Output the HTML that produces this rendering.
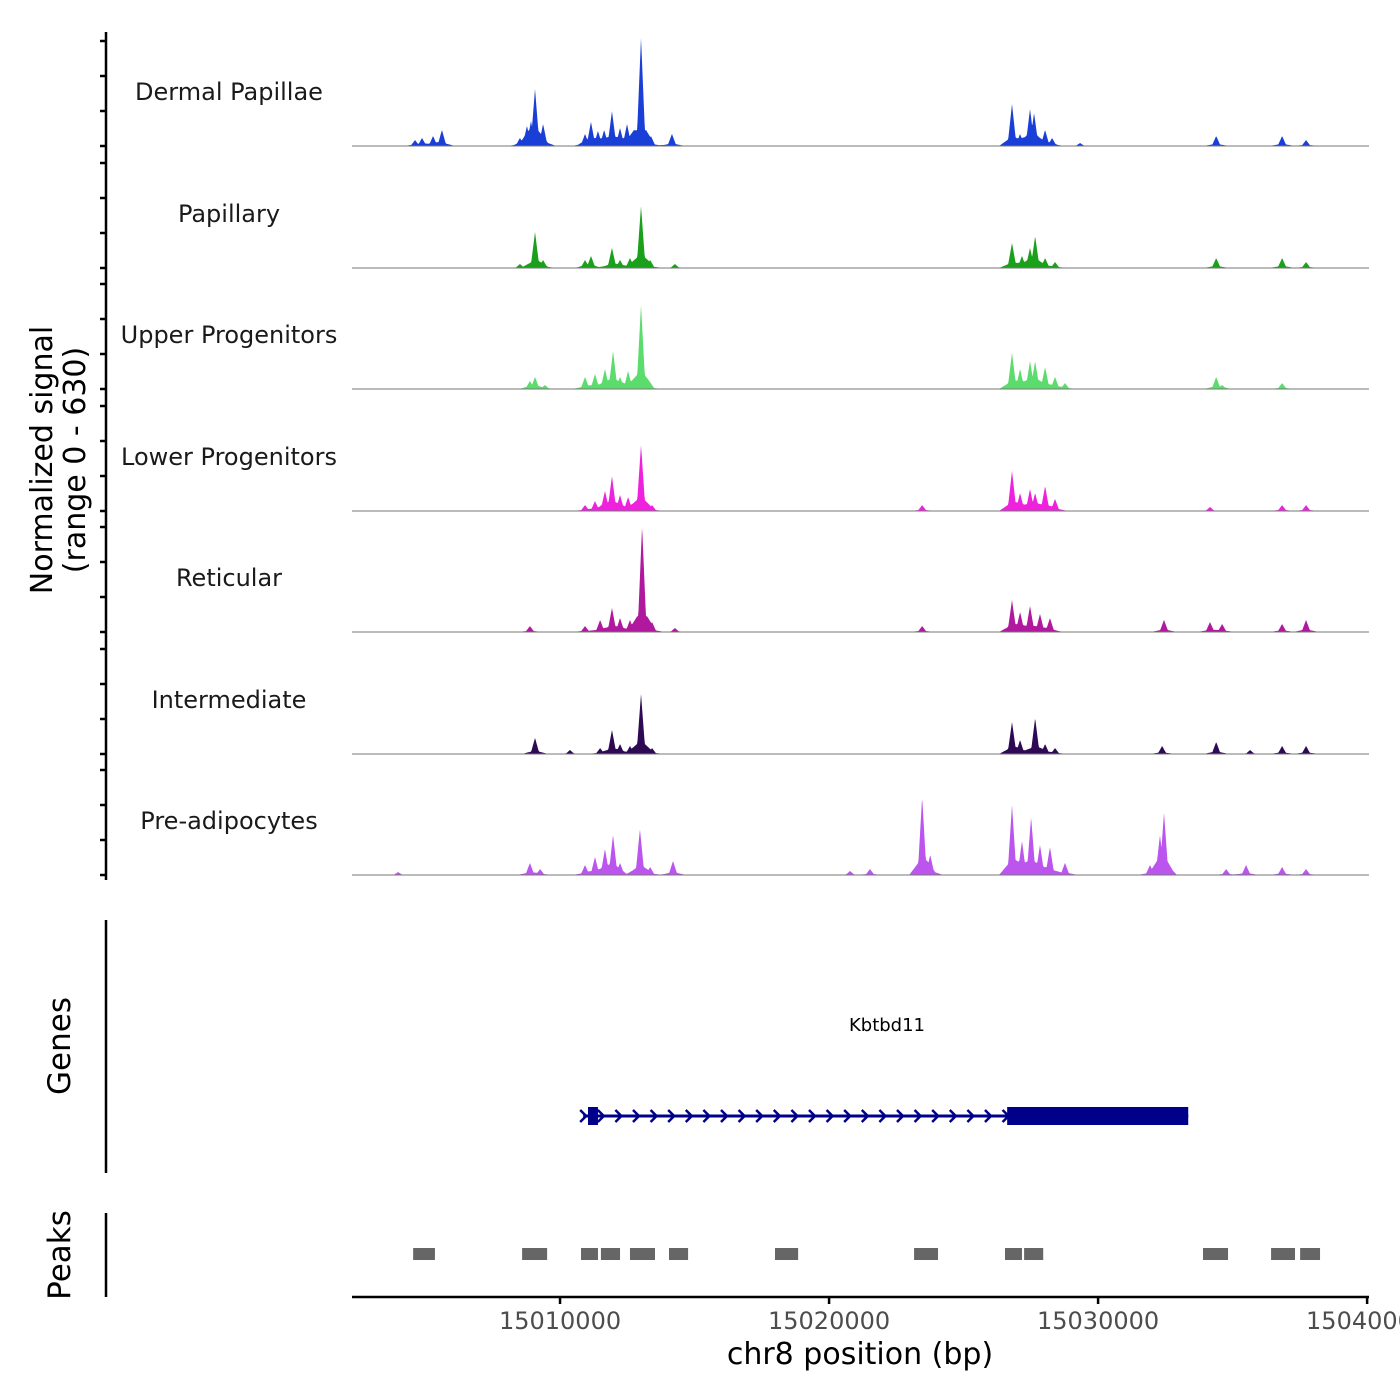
<!DOCTYPE html>
<html><head><meta charset="utf-8">
<style>
html,body{margin:0;padding:0;background:#fff;width:1400px;height:1400px;overflow:hidden}
svg{display:block;font-family:"DejaVu Sans","Liberation Sans",sans-serif}
</style></head>
<body>
<svg id="chart" width="1400" height="1400" viewBox="0 0 1400 1400">
  <g id="tracks"></g>
  <line x1="106" y1="32" x2="106" y2="880" stroke="#000" stroke-width="2.5"/>
  <g id="yticks"></g>
  <text transform="translate(52,460) rotate(-90)" text-anchor="middle" font-size="30" fill="#000">Normalized signal</text>
  <text transform="translate(85,460) rotate(-90)" text-anchor="middle" font-size="30" fill="#000">(range 0 - 630)</text>

  <line x1="106" y1="920" x2="106" y2="1173" stroke="#000" stroke-width="2.5"/>
  <text transform="translate(70,1046) rotate(-90)" text-anchor="middle" font-size="31" fill="#000">Genes</text>
  <g id="genes"></g>

  <line x1="106" y1="1213" x2="106" y2="1297" stroke="#000" stroke-width="2.5"/>
  <text transform="translate(70,1255) rotate(-90)" text-anchor="middle" font-size="31" fill="#000">Peaks</text>
  <g id="peaks"></g>

  <line x1="352" y1="1297" x2="1369" y2="1297" stroke="#000" stroke-width="2.5"/>
  <g id="xticks"></g>
  <text x="860" y="1364" text-anchor="middle" font-size="30" fill="#000">chr8 position (bp)</text>
</svg>
<script>
// positions in kb relative to chr8:15,000,000; signal in normalized units (0-630)
const trackNames = ["Dermal Papillae","Papillary","Upper Progenitors","Lower Progenitors","Reticular","Intermediate","Pre-adipocytes"];
const trackColors = ["#1a3fd6","#1aa01a","#5cdc6c","#ee22dd","#b0189e","#2e0a55","#bb55ee"];
const dpPos = [4.61,4.87,5.28,5.61,8.51,8.77,8.92,9.07,9.37,10.93,11.15,11.41,11.64,11.93,12.23,12.49,12.75,13.01,13.38,14.16,26.80,27.10,27.47,27.62,28.03,28.29,29.33,34.39,36.84,37.73];
const dpVal = [34,46,57,92,46,115,143,327,126,69,138,86,92,200,103,126,80,619,57,69,240,69,212,189,92,46,17,57,57,34];
const papPos = [8.51,9.07,9.37,10.93,11.15,11.93,12.23,12.60,13.01,13.35,14.27,26.80,27.17,27.47,27.66,28.03,28.40,34.39,36.84,37.73];
const papVal = [23,206,46,46,69,115,46,57,355,46,23,143,69,115,183,57,34,57,57,34];
const upPos = [8.88,9.07,9.44,10.93,11.30,11.67,11.97,12.23,12.53,13.01,13.35,26.80,27.10,27.47,27.66,28.03,28.40,28.77,34.39,34.61,36.84];
const upVal = [46,69,23,69,86,115,218,69,103,481,34,206,115,160,160,126,69,34,69,23,34];
const lowPos = [10.93,11.30,11.67,11.93,12.23,12.53,13.01,13.42,23.46,26.80,27.10,27.47,27.66,28.03,28.40,34.16,36.84,37.73];
const lowVal = [34,57,115,200,92,80,378,34,34,229,103,126,103,143,69,23,34,34];
const retPos = [8.88,10.93,11.49,11.93,12.23,12.60,13.05,13.42,14.27,23.46,26.80,27.10,27.47,27.84,28.21,32.45,34.16,34.61,36.84,37.73];
const retVal = [34,34,69,138,80,69,607,57,23,34,183,115,149,103,80,69,57,46,46,69];
const intPos = [9.07,10.37,11.49,11.93,12.23,12.60,13.01,13.42,26.80,27.10,27.66,28.03,28.40,32.38,34.39,35.65,36.84,37.73];
const intVal = [92,23,34,138,57,46,344,34,183,80,206,57,34,46,69,23,46,46];
const prePos = [3.98,8.88,9.26,10.93,11.30,11.67,11.97,12.23,12.97,13.35,14.20,20.78,21.52,23.46,23.76,26.80,27.17,27.51,27.84,28.21,28.77,31.93,32.30,32.45,34.76,35.50,36.84,37.73];
const preVal = [17,69,34,57,103,149,229,69,263,46,80,23,34,447,115,401,195,332,172,160,69,57,229,355,34,57,46,34];
const trackPos = [dpPos,papPos,upPos,lowPos,retPos,intPos,prePos];
const trackVal = [dpVal,papVal,upVal,lowVal,retVal,intVal,preVal];
const yTickVals = [0,200,400,600];
const xTickVals = [15010000,15020000,15030000,15040000];
const peakStarts = [4.54,8.59,10.78,11.52,12.60,14.05,17.99,23.16,26.54,27.25,33.90,36.43,37.51];
const peakEnds = [5.35,9.52,11.41,12.23,13.53,14.76,18.85,24.05,27.17,27.96,34.83,37.32,38.25];
const geneName = "Kbtbd11";
const geneStart = 10.86, geneEnd = 33.35;
const exonStarts = [11.04,26.62];
const exonEnds = [11.41,33.35];

const NS="http://www.w3.org/2000/svg";
const X0=352, X1=1369, KB0=2.267, KB1=40.07;
function xs(kb){return X0+(kb-KB0)/(KB1-KB0)*(X1-X0);}
function xbp(bp){return xs((bp-15000000)/1000);}
const baselines=[146,268,389,511,632,754,875];
const PH=110.25, YMAX=630;
function ys(v,b){return b - v/YMAX*PH;}
function mk(tag,attrs,parent){const e=document.createElementNS(NS,tag);for(const k in attrs)e.setAttribute(k,attrs[k]);parent.appendChild(e);return e;}

const tracks=document.getElementById('tracks');
trackNames.forEach((nm,i)=>{
  const b=baselines[i];
  const g=mk('g',{},tracks);
  
  
  const pos=trackPos[i], val=trackVal[i];
  let d='M'+X0+' '+b;
  for(let x=X0;x<=X1;x+=0.5){
    let v=0, sh=0;
    for(let k=0;k<pos.length;k++){
      const px=xs(pos[k]);
      const t=1-Math.abs(x-px)/4.5;
      if(t>0) v=Math.max(v,val[k]*t);
      const s=1-Math.abs(x-px)/13;
      if(s>0) sh+=val[k]*0.22*s;
    }
    v=Math.max(v,Math.min(sh,90));
    d+=' L'+x+' '+ys(v,b).toFixed(2);
  }
  d+=' L'+X1+' '+b+' Z';
  const p=mk('path',{d:d,fill:trackColors[i]},g);
  
  
  const l=mk('line',{x1:X0,x2:X1,y1:b,y2:b,stroke:'#777','stroke-width':1},g);
  
  
  const t=mk('text',{x:229,y:b-46,'text-anchor':'middle','font-size':24,fill:'#1a1a1a'},g);
  t.textContent=nm;
  
  
});

const yt=document.getElementById('yticks');
baselines.forEach(b=>{yTickVals.forEach(v=>{
  const y=ys(v,b);
  const l=mk('line',{x1:100,x2:106,y1:y,y2:y,stroke:'#000','stroke-width':2.5},yt);
  
  
});});

const xt=document.getElementById('xticks');
xTickVals.forEach(v=>{
  const x=xbp(v);
  const l=mk('line',{x1:x,x2:x,y1:1297,y2:1304,stroke:'#000','stroke-width':2.5},xt);
  
  
  const t=mk('text',{x:x,y:1329,'text-anchor':'middle','font-size':24,fill:'#4d4d4d'},xt);
  t.textContent=String(v);
  
  
});

const pk=document.getElementById('peaks');
peakStarts.forEach((s,i)=>{
  const r=mk('rect',{x:xs(s),y:1248,width:xs(peakEnds[i])-xs(s),height:12,fill:'#666'},pk);
  
  
});

const gn=document.getElementById('genes');
const gy=1116;
const gl=mk('line',{x1:xs(geneStart),x2:xs(geneEnd),y1:gy,y2:gy,stroke:'#00008b','stroke-width':3},gn);


for(let x=xs(geneStart);x<xs(exonStarts[1]);x+=17.6){
  const a=mk('path',{d:`M${x-3} ${gy-6} L${x+3} ${gy} L${x-3} ${gy+6}`,fill:'none',stroke:'#00008b','stroke-width':2.5},gn);
  
  
}
exonStarts.forEach((s,i)=>{
  const r=mk('rect',{x:xs(s),y:gy-9,width:xs(exonEnds[i])-xs(s),height:18,fill:'#00008b'},gn);
  
  
});
const gt=mk('text',{x:887,y:1031,'text-anchor':'middle','font-size':18,fill:'#000'},gn);
gt.textContent=geneName;


</script>
</body></html>
